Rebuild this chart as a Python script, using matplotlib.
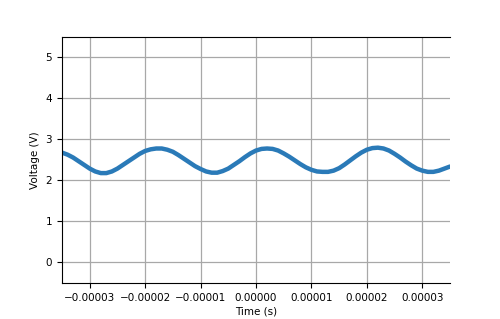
import matplotlib
matplotlib.use('Agg')
import matplotlib.pyplot as plt

# time in microseconds, voltage
time_us = list(range(-35, 36))
voltage = [2.68, 2.63, 2.56, 2.47, 2.38, 2.29, 2.22, 2.18, 2.18, 2.22,
           2.29, 2.38, 2.47, 2.56, 2.65, 2.72, 2.76, 2.78, 2.78, 2.75,
           2.70, 2.62, 2.53, 2.44, 2.35, 2.28, 2.22, 2.19, 2.19, 2.23,
           2.29, 2.38, 2.47, 2.57, 2.66, 2.73, 2.77, 2.78, 2.77, 2.73,
           2.66, 2.58, 2.49, 2.40, 2.32, 2.26, 2.22, 2.21, 2.21, 2.24,
           2.30, 2.39, 2.49, 2.59, 2.68, 2.75, 2.79, 2.80, 2.78, 2.73,
           2.65, 2.56, 2.46, 2.37, 2.29, 2.24, 2.21, 2.21, 2.24, 2.29,
           2.34]
time_s = [t * 1e-6 for t in time_us]

xticks = [-3e-5, -2e-5, -1e-5, 0, 1e-5, 2e-5, 3e-5]
xtick_labels = ['\u22120.00003', '\u22120.00002', '\u22120.00001', '0.00000',
                '0.00001', '0.00002', '0.00003']

plt.rcParams['font.size'] = 7.5
fig = plt.figure(figsize=(5, 3.19), dpi=100)
ax = fig.add_axes([0.124, 0.113, 0.776, 0.771])

ax.plot(time_s, voltage, color='#2a7ab8', linewidth=3.2, solid_capstyle='round')

ax.set_xlim(-3.5e-5, 3.5e-5)
ax.set_ylim(-0.5, 5.5)
ax.set_xticks(xticks)
ax.set_xticklabels(xtick_labels)
ax.set_yticks([0, 1, 2, 3, 4, 5])
ax.grid(True, color='#a8a8a8', linewidth=0.9)
ax.spines['right'].set_visible(False)
ax.set_xlabel('Time (s)', labelpad=3)
ax.set_ylabel('Voltage (V)', labelpad=4)

fig.savefig('out.png', dpi=100)
